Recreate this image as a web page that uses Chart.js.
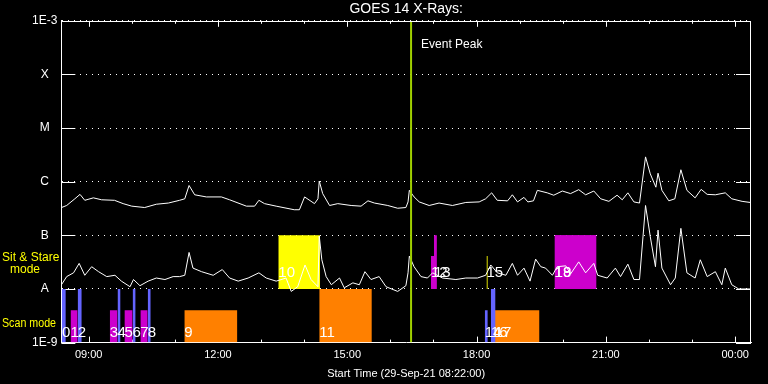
<!DOCTYPE html>
<html>
<head>
<meta charset="utf-8">
<title>GOES 14 X-Rays</title>
<script src="https://cdn.jsdelivr.net/npm/chart.js@4.4.0/dist/chart.umd.min.js"></script>
<style>
  body { margin: 0; background: #000; }
  canvas { display: block; }
</style>
</head>
<body>
<canvas id="chart" width="768" height="384"></canvas>
<script>
// time is hour of day, values past 24 are after midnight
const startHour = 8 + 22 / 60;
const endHour = startHour + 16;
const eventPeakHour = 16.48;

const longTimes = [8.37, 8.49, 8.68, 8.80, 8.91, 9.11, 9.30, 9.60, 9.80, 10.00, 10.30, 10.57, 10.85, 11.11, 11.23, 11.33, 11.46, 11.73, 12.08, 12.27,
  12.66, 12.85, 12.95, 13.08, 13.35, 13.77, 13.89, 14.01, 14.24, 14.32, 14.35, 14.43, 14.59, 14.78, 15.09, 15.32, 15.48, 15.63, 15.94, 16.17,
  16.36, 16.41, 16.44, 16.55, 16.67, 16.90, 17.13, 17.44, 17.75, 18.06, 18.21, 18.35, 18.48, 18.72, 18.83, 18.95, 19.10, 19.19, 19.32, 19.41,
  19.64, 19.79, 19.99, 20.18, 20.37, 20.53, 20.72, 20.88, 21.07, 21.26, 21.38, 21.51, 21.65, 21.78, 21.92, 22.03, 22.16, 22.21, 22.30, 22.46,
  22.60, 22.74, 22.88, 23.07, 23.21, 23.35, 23.54, 23.77, 23.92, 24.16, 24.35];
const longFlux = [3.3e-7, 3.6e-7, 4.8e-7, 5.8e-7, 4.5e-7, 5.0e-7, 4.6e-7, 4.5e-7, 3.9e-7, 3.5e-7, 3.3e-7, 3.8e-7, 4.0e-7, 4.5e-7, 4.8e-7, 8.5e-7, 5.7e-7, 5.2e-7, 5.2e-7, 4.6e-7,
  3.5e-7, 3.5e-7, 4.5e-7, 3.9e-7, 3.5e-7, 3.0e-7, 3.0e-7, 5.2e-7, 3.9e-7, 4.8e-7, 1.03e-6, 6.0e-7, 3.6e-7, 3.9e-7, 3.6e-7, 3.5e-7, 4.4e-7, 4.0e-7, 3.6e-7, 3.2e-7,
  3.3e-7, 4.2e-7, 6.9e-7, 5.2e-7, 4.2e-7, 3.6e-7, 4.0e-7, 3.6e-7, 4.1e-7, 4.2e-7, 4.8e-7, 6.2e-7, 4.5e-7, 4.4e-7, 5.7e-7, 4.2e-7, 5.1e-7, 4.2e-7, 4.4e-7, 6.9e-7,
  6.2e-7, 5.6e-7, 6.7e-7, 6.0e-7, 7.1e-7, 5.7e-7, 6.7e-7, 4.8e-7, 4.3e-7, 5.6e-7, 4.6e-7, 6.2e-7, 4.2e-7, 4.0e-7, 2.9e-6, 1.4e-6, 7.9e-7, 1.44e-6, 6.9e-7, 4.4e-7,
  4.8e-7, 1.67e-6, 6.9e-7, 5.0e-7, 7.2e-7, 5.8e-7, 5.7e-7, 6.2e-7, 4.8e-7, 4.3e-7, 4.1e-7];

const shortTimes = [8.37, 8.49, 8.65, 8.78, 8.91, 9.07, 9.23, 9.42, 9.61, 9.76, 9.96, 10.04, 10.19, 10.38, 10.57, 10.77, 10.96, 11.11, 11.23, 11.33,
  11.42, 11.62, 11.89, 12.10, 12.27, 12.47, 12.70, 12.95, 13.12, 13.35, 13.58, 13.70, 13.85, 14.02, 14.16, 14.32, 14.35, 14.41, 14.51, 14.63,
  14.82, 14.93, 15.13, 15.28, 15.41, 15.55, 15.74, 15.90, 16.17, 16.36, 16.41, 16.44, 16.55, 16.71, 16.86, 16.98, 17.21, 17.52, 17.75, 18.02,
  18.21, 18.33, 18.48, 18.68, 18.83, 18.95, 19.10, 19.24, 19.37, 19.49, 19.60, 19.76, 19.87, 20.07, 20.18, 20.37, 20.53, 20.72, 20.81, 21.03,
  21.22, 21.34, 21.51, 21.65, 21.78, 21.92, 22.03, 22.15, 22.21, 22.30, 22.50, 22.61, 22.74, 22.88, 23.07, 23.19, 23.35, 23.54, 23.69, 23.77,
  23.92, 24.08, 24.35];
const shortFlux = [1.2e-8, 1.7e-8, 2.0e-8, 3.0e-8, 1.8e-8, 2.6e-8, 2.1e-8, 1.7e-8, 1.8e-8, 1.4e-8, 1.1e-8, 1.5e-8, 1.15e-8, 1.4e-8, 1.6e-8, 1.5e-8, 1.7e-8, 1.7e-8, 1.8e-8, 4.8e-8,
  2.45e-8, 2.1e-8, 1.8e-8, 2.3e-8, 1.6e-8, 1.4e-8, 1.6e-8, 2.0e-8, 1.6e-8, 1.4e-8, 1.6e-8, 9.0e-9, 1.1e-8, 2.8e-8, 1.5e-8, 1.1e-8, 9.7e-8, 3.5e-8, 1.7e-8, 1.2e-8,
  1.6e-8, 1.05e-8, 1.3e-8, 1.2e-8, 2.1e-8, 1.5e-8, 1.7e-8, 1.1e-8, 9.0e-9, 1.15e-8, 2.0e-8, 4.1e-8, 2.6e-8, 1.7e-8, 1.6e-8, 2.0e-8, 1.6e-8, 1.5e-8, 1.6e-8, 1.6e-8,
  1.8e-8, 2.8e-8, 2.0e-8, 1.8e-8, 3.0e-8, 1.8e-8, 2.45e-8, 1.4e-8, 3.6e-8, 2.6e-8, 2.45e-8, 1.8e-8, 2.6e-8, 2.7e-8, 1.9e-8, 3.2e-8, 2.0e-8, 3.0e-8, 1.8e-8, 1.6e-8,
  2.45e-8, 1.7e-8, 2.9e-8, 1.5e-8, 1.5e-8, 3.6e-7, 9.4e-8, 2.6e-8, 1.25e-7, 2.45e-8, 1.2e-8, 1.6e-8, 1.35e-7, 2.0e-8, 1.6e-8, 3.5e-8, 1.7e-8, 2.1e-8, 1.2e-8, 2.45e-8,
  1.2e-8, 1.0e-8, 1.0e-8];

// observations 0..19
const obsStart = [8.38, 8.58, 8.745, 9.49, 9.67, 9.83, 10.02, 10.20, 10.37, 11.22, 13.40, 14.35, 16.94, 17.01, 18.19, 18.23, 18.33, 18.42, 19.81, 19.81];
const obsEnd = [8.47, 8.745, 8.84, 9.67, 9.74, 10.02, 10.09, 10.37, 10.44, 12.45, 14.37, 15.57, 17.06, 17.08, 18.26, 18.26, 18.44, 19.46, 20.78, 20.78];
const obsLow = [1e-9, 1e-9, 1e-9, 1e-9, 1e-9, 1e-9, 1e-9, 1e-9, 1e-9, 1e-9, 1e-8, 1e-9, 1e-8, 1e-8, 1e-9, 1e-8, 1e-9, 1e-9, 1e-8, 1e-8];
const obsHigh = [1e-8, 4e-9, 1e-8, 4e-9, 1e-8, 4e-9, 1e-8, 4e-9, 1e-8, 4e-9, 1e-7, 1e-8, 4.1e-8, 1e-7, 4e-9, 4.1e-8, 1e-8, 4e-9, 1e-7, 1e-7];
const obsType = [1, 2, 1, 2, 1, 2, 1, 2, 1, 3, 4, 3, 2, 2, 1, 4, 1, 3, 2, 2];
const typeColors = { 1: '#6464ff', 2: '#cc00cc', 3: '#ff8000', 4: '#ffff00' };

const xTickHours = [9, 10, 11, 12, 13, 14, 15, 16, 17, 18, 19, 20, 21, 22, 23, 24];
const xTickLabels = ['09:00', '', '', '12:00', '', '', '15:00', '', '', '18:00', '', '', '21:00', '', '', '00:00'];
const yTickValues = [1e-9, 1e-8, 1e-7, 1e-6, 1e-5, 1e-4, 1e-3];
const yTickLabels = ['1E-9', 'A', 'B', 'C', 'M', 'X', '1E-3'];

Chart.defaults.font.family = '"Liberation Sans", sans-serif';
Chart.defaults.color = '#fff';

const toPoints = (times, values) => times.map((t, i) => ({ x: t, y: values[i] }));

const curve = (times, values) => ({
  data: toPoints(times, values),
  borderColor: '#fff',
  borderWidth: 1,
  pointRadius: 0,
  tension: 0,
  fill: false
});

const boxes = obsStart.map((t, i) => ({
  data: [{ x: t, y: obsHigh[i] }, { x: obsEnd[i], y: obsHigh[i] }],
  borderColor: 'rgba(0,0,0,0)',
  borderWidth: 0,
  backgroundColor: typeColors[obsType[i]],
  pointRadius: 0,
  fill: { value: obsLow[i] }
}));

const eventLine = {
  data: [{ x: eventPeakHour, y: 1e-9 }, { x: eventPeakHour, y: 1e-3 }],
  borderColor: '#a0d000',
  borderWidth: 2,
  pointRadius: 0,
  fill: false
};

const frame = {
  id: 'frame',
  beforeDatasetsDraw(chart) {
    const { ctx, chartArea: a, scales: { x, y } } = chart;
    ctx.save();
    ctx.strokeStyle = '#fff';
    ctx.lineWidth = 1;
    ctx.beginPath();
    xTickHours.forEach((h, i) => {
      const px = Math.round(x.getPixelForValue(h)) + 0.5;
      const len = xTickLabels[i] ? 6 : 3;
      ctx.moveTo(px, a.top);
      ctx.lineTo(px, a.top + len);
      ctx.moveTo(px, a.bottom);
      ctx.lineTo(px, a.bottom - len);
    });
    yTickValues.forEach(v => {
      const py = Math.round(y.getPixelForValue(v)) + 0.5;
      ctx.moveTo(a.left, py);
      ctx.lineTo(a.left + 14, py);
      ctx.moveTo(a.right, py);
      ctx.lineTo(a.right - 15, py);
    });
    ctx.stroke();
    ctx.restore();
  },
  afterDatasetsDraw(chart) {
    const { ctx, chartArea: a, scales: { x, y } } = chart;
    ctx.save();
    ctx.strokeStyle = '#fff';
    ctx.lineWidth = 1;
    ctx.beginPath();
    ctx.moveTo(Math.round(a.left) + 0.5, Math.round(a.top) + 0.5);
    ctx.lineTo(Math.round(a.right) - 0.5, Math.round(a.top) + 0.5);
    ctx.lineTo(Math.round(a.right) - 0.5, Math.round(a.bottom));
    ctx.stroke();

    ctx.fillStyle = '#fff';
    ctx.font = '15px "Liberation Sans"';
    ctx.textAlign = 'left';
    ctx.textBaseline = 'alphabetic';
    obsStart.forEach((t, i) => {
      const scan = obsLow[i] < 5e-9;
      ctx.fillText(String(i), x.getPixelForValue(t), y.getPixelForValue(scan ? 1.25e-9 : 1.66e-8));
    });

    ctx.font = '12px "Liberation Sans"';
    ctx.textBaseline = 'middle';
    ctx.fillText('Event Peak', x.getPixelForValue(eventPeakHour) + 10, a.top + 24);

    ctx.fillStyle = '#ffff00';
    ctx.font = '12px "Liberation Sans"';
    const stare = y.getPixelForValue(Math.pow(10, -7.5));
    const scanMid = y.getPixelForValue(Math.pow(10, -8.5));
    ctx.fillText('Sit & Stare', 2, stare - 4);
    ctx.textAlign = 'center';
    ctx.fillText('mode', 25, stare + 8);
    ctx.textAlign = 'left';
    ctx.fillText('Scan mode', 2, scanMid + 8, 54);
    ctx.restore();
  }
};

const ctx = document.getElementById('chart').getContext('2d');
new Chart(ctx, {
  type: 'line',
  data: {
    datasets: [eventLine, curve(longTimes, longFlux), curve(shortTimes, shortFlux), ...boxes]
  },
  options: {
    responsive: false,
    animation: false,
    events: [],
    layout: { padding: { left: 28, right: 17, top: 0, bottom: 3 } },
    plugins: {
      legend: { display: false },
      tooltip: { enabled: false },
      title: {
        display: true,
        text: 'GOES 14 X-Rays:',
        fullSize: false,
        color: '#fff',
        font: { size: 14, weight: 'normal' },
        padding: { top: 1, bottom: 3 }
      }
    },
    scales: {
      x: {
        type: 'linear',
        min: startHour,
        max: endHour,
        afterBuildTicks: scale => { scale.ticks = xTickHours.map(v => ({ value: v })); },
        ticks: {
          autoSkip: false,
          maxRotation: 0,
          padding: 6,
          font: { size: 11 },
          callback: (v, i) => xTickLabels[i]
        },
        grid: { display: false, drawTicks: false },
        border: { display: true, color: '#fff', width: 1 },
        title: {
          display: true,
          text: 'Start Time (29-Sep-21 08:22:00)',
          font: { size: 11 },
          padding: { top: 0, bottom: 0 }
        }
      },
      y: {
        type: 'logarithmic',
        min: 1e-9,
        max: 1e-3,
        afterBuildTicks: scale => { scale.ticks = yTickValues.map(v => ({ value: v })); },
        ticks: {
          autoSkip: false,
          padding: 4,
          crossAlign: 'center',
          font: { size: 12 },
          callback: (v, i) => yTickLabels[i]
        },
        grid: { color: '#fff', lineWidth: 1, drawTicks: false },
        border: { display: true, color: '#fff', width: 1, dash: [1, 5] }
      }
    }
  },
  plugins: [frame]
});
</script>
</body>
</html>
